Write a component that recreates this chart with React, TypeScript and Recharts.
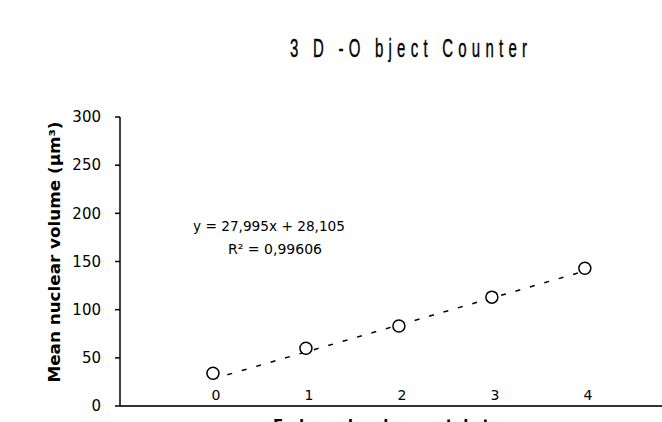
import { ComposedChart, Line, XAxis, YAxis } from "recharts"

const stages = [0, 1, 2, 3, 4]
const meanVolume = [34, 60, 83, 113, 143]
const trendX = [0, 4]
const trendY = [28.1, 140.1]
const yTicks = [0, 50, 100, 150, 200, 250, 300]

const points = stages.map((s, i) => ({ x: s, v: meanVolume[i] }))
const trend = trendX.map((x, i) => ({ x, t: trendY[i] }))

const font = "'DejaVu Sans', Verdana, sans-serif"

const renderXTick = (props: any) => {
  const { x, y, payload } = props
  return (
    <text
      key={payload.value}
      x={x + 3}
      y={y - 14}
      textAnchor="middle"
      style={{ fontSize: 14, fontFamily: font }}
      fill="#000"
    >
      {payload.value}
    </text>
  )
}

export default function App() {
  return (
    <div style={{ position: "absolute", left: 0, top: 0, width: 662, height: 422, background: "#fff", overflow: "hidden" }}>
      <svg width={662} height={422} style={{ position: "absolute", left: 0, top: 0 }}>
        <g transform="translate(290 57) scale(0.6 1)">
          <text
            x={0}
            y={0}
            textLength={395}
            lengthAdjust="spacing"
            fontSize={25}
            fontFamily="'Liberation Sans', Arial, sans-serif"
            stroke="#000"
            strokeWidth={0.4}
            fill="#000"
          >
            3 D -O bject Counter
          </text>
        </g>
        <text
          transform="translate(60 252) rotate(-90)"
          textAnchor="middle"
          textLength={261}
          lengthAdjust="spacingAndGlyphs"
          fontSize={15}
          fontWeight="bold"
          fontFamily={font}
          fill="#000"
        >
          Mean nuclear volume (µm³)
        </text>
        <text x={193} y={231} fontSize={14} fontFamily={font} fill="#000" textLength={152} lengthAdjust="spacingAndGlyphs">
          y = 27,995x + 28,105
        </text>
        <text x={228} y={254} fontSize={14} fontFamily={font} fill="#000" textLength={94} lengthAdjust="spacingAndGlyphs">
          R² = 0,99606
        </text>
        <text x={273} y={431} fontSize={15} fontWeight="bold" fontFamily={font} fill="#000">
          Embryo developmental stage
        </text>
      </svg>
      <ComposedChart
        width={662}
        height={422}
        margin={{ top: 117, right: 0, left: 0, bottom: 0 }}
        style={{ position: "absolute", left: 0, top: 0 }}
      >
        <XAxis
          type="number"
          dataKey="x"
          domain={[-1, 4.83]}
          ticks={stages}
          allowDataOverflow
          height={16}
          axisLine={{ stroke: "#333", strokeWidth: 2 }}
          tickLine={false}
          tick={renderXTick}
        />
        <YAxis
          type="number"
          domain={[0, 300]}
          ticks={yTicks}
          width={120}
          axisLine={{ stroke: "#000", strokeWidth: 1.5 }}
          tickLine={{ stroke: "#000", strokeWidth: 1.5 }}
          tickSize={5}
          tick={{ fontSize: 15, fill: "#000", fontFamily: font, dx: -12 }}
        />
        <Line
          data={trend}
          dataKey="t"
          stroke="#000"
          strokeWidth={1.5}
          strokeDasharray="5 10"
          dot={false}
          isAnimationActive={false}
        />
        <Line
          data={points}
          dataKey="v"
          stroke="none"
          dot={{ r: 6, fill: "#fff", stroke: "#000", strokeWidth: 1.5 }}
          isAnimationActive={false}
        />
      </ComposedChart>
    </div>
  )
}
